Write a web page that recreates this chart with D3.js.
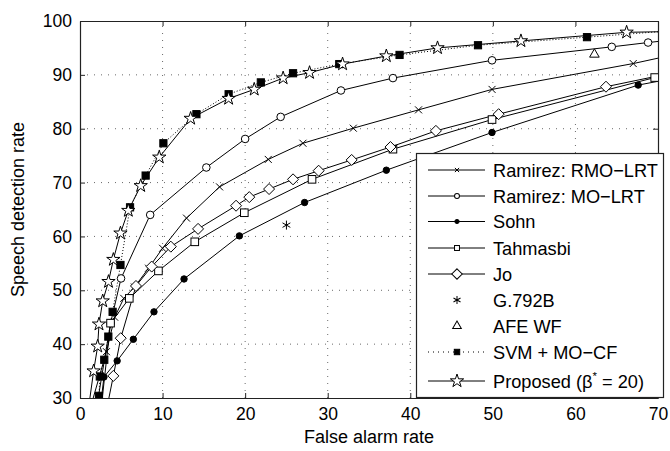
<!DOCTYPE html>
<html>
<head>
<meta charset="utf-8">
<script src="https://cdn.jsdelivr.net/npm/d3@7"></script>
<style>
  body { margin: 0; background: #fff; }
  svg text { font-family: "Liberation Sans", Arial, sans-serif; fill: #000; }
</style>
</head>
<body>
<svg id="chart" width="670" height="451"></svg>
<script>
// ---- data ----
const xTicks = [0, 10, 20, 30, 40, 50, 60, 70];
const yTicks = [30, 40, 50, 60, 70, 80, 90, 100];

const rmoLrt = [[1.6, 30], [3.2, 38.6], [4.2, 45.0], [5.3, 48.5], [6.6, 50.6], [8.3, 54.1], [10.0, 57.8], [12.9, 63.4],
  [16.9, 69.2], [22.8, 74.3], [27.0, 77.3], [33.1, 80.1], [41.0, 83.5], [49.9, 87.3], [67.0, 92.1], [70, 93.1]];
const moLrt = [[2.2, 30], [3.7, 43.9], [4.97, 52.2], [8.5, 64.0], [15.3, 72.8], [20.0, 78.1], [24.3, 82.2],
  [31.6, 87.1], [37.9, 89.4], [49.9, 92.7], [64.4, 95.2], [68.8, 96.0], [70, 96.2]];
const sohn = [[2.6, 30], [2.9, 33.9], [4.5, 36.9], [6.46, 40.9], [8.96, 46.0], [12.6, 52.1], [19.3, 60.1],
  [27.2, 66.3], [37.1, 72.3], [49.9, 79.3], [67.6, 88.1], [70, 88.8]];
const tahmasbi = [[2.7, 30], [3.7, 43.9], [5.97, 48.5], [9.5, 53.6], [13.9, 59.0], [19.9, 64.4], [28.1, 70.6],
  [37.9, 76.2], [49.9, 81.7], [69.6, 89.5]];
const jo = [[3.5, 30], [4.04, 34.1], [4.93, 41.1], [6.78, 50.8], [8.68, 54.4], [11.0, 58.1], [14.3, 61.4],
  [18.9, 65.7], [20.5, 67.3], [22.9, 68.8], [25.8, 70.6], [28.9, 72.2], [32.9, 74.2], [37.6, 76.6],
  [43.1, 79.6], [50.7, 82.7], [63.7, 87.8], [70, 89.8]];
const g792b = [[25.0, 62.1]];
const afeWf = [[62.3, 93.8]];
const svm = [[2.3, 30.4], [2.4, 34.0], [2.94, 37.1], [3.43, 41.4], [3.95, 46.0], [4.9, 54.7], [6.06, 65.4],
  [7.95, 71.3], [10.1, 77.3], [14.1, 82.7], [18.0, 86.4], [21.9, 88.6], [25.8, 90.3], [31.4, 92.0],
  [38.7, 93.7], [48.2, 95.5], [61.4, 97.0], [70, 98.0]];
const proposed = [[1.2, 30], [1.65, 35.0], [2.14, 39.6], [2.3, 43.7], [2.75, 48.0], [3.45, 51.6], [4.04, 55.7],
  [4.9, 60.6], [5.85, 64.8], [7.35, 69.4], [9.6, 74.7], [13.4, 81.9], [18.0, 85.6], [21.1, 87.3],
  [24.6, 89.4], [27.8, 90.4], [31.8, 92.0], [37.1, 93.5], [43.3, 95.0], [53.4, 96.3], [66.2, 97.9], [70, 98.0]];

// endpoint rows that only carry the line to the frame get no marker
const series = [
  {name: "Ramirez: RMO\u2212LRT", data: rmoLrt, marker: "x", line: "solid", skip: [0, 15]},
  {name: "Ramirez: MO\u2212LRT", data: moLrt, marker: "circle", line: "solid", skip: [0, 12]},
  {name: "Sohn", data: sohn, marker: "dot", line: "solid", skip: [0, 11]},
  {name: "Tahmasbi", data: tahmasbi, marker: "square", line: "solid", skip: [0]},
  {name: "Jo", data: jo, marker: "diamond", line: "solid", skip: [0, 17]},
  {name: "G.792B", data: g792b, marker: "asterisk", line: "none", skip: []},
  {name: "AFE WF", data: afeWf, marker: "triangle", line: "none", skip: []},
  {name: "SVM + MO\u2212CF", data: svm, marker: "fsquare", line: "dotted", skip: [17]},
  {name: "Proposed", data: proposed, marker: "star", line: "solid", skip: [0, 21]}
];

const svg = d3.select("#chart");
const margin = {left: 80, right: 12, top: 21, bottom: 53};
const W = 670, H = 451;
const x = d3.scaleLinear().domain([0, 70]).range([margin.left, W - margin.right]);
const y = d3.scaleLinear().domain([30, 100]).range([H - margin.bottom, margin.top]);
const x0 = x.range()[0], x1 = x.range()[1], y0 = y.range()[0], y1 = y.range()[1];

svg.append("defs").append("clipPath").attr("id", "plot-clip")
  .append("rect").attr("x", x0).attr("y", y1).attr("width", x1 - x0).attr("height", y0 - y1);

// grid
const grid = svg.append("g").attr("class", "grid")
  .attr("stroke", "#444").attr("stroke-width", 0.8).attr("stroke-dasharray", "1,6");
grid.selectAll(".gx").data(xTicks.slice(1, -1)).join("line")
  .attr("x1", d => x(d)).attr("x2", d => x(d)).attr("y1", y0).attr("y2", y1);
grid.selectAll(".gy").data(yTicks.slice(1, -1)).join("line")
  .attr("y1", d => y(d)).attr("y2", d => y(d)).attr("x1", x0).attr("x2", x1);

// axes (ticks inward, mirrored on top/right)
const tickLen = 5;
svg.append("g").attr("transform", `translate(0,${y0})`)
  .call(d3.axisBottom(x).tickValues(xTicks).tickSize(-tickLen).tickPadding(10).tickSizeOuter(0))
  .call(g => g.selectAll("text").attr("font-size", 17.5).attr("dy", "0.71em"));
svg.append("g").attr("transform", `translate(${x0},0)`)
  .call(d3.axisLeft(y).tickValues(yTicks).tickSize(-tickLen).tickPadding(8).tickSizeOuter(0))
  .call(g => g.selectAll("text").attr("font-size", 17.5));
svg.append("g").attr("transform", `translate(0,${y1})`)
  .call(d3.axisTop(x).tickValues(xTicks).tickSize(-tickLen).tickFormat("").tickSizeOuter(0));
svg.append("g").attr("transform", `translate(${x1},0)`)
  .call(d3.axisRight(y).tickValues(yTicks).tickSize(-tickLen).tickFormat("").tickSizeOuter(0));
svg.selectAll(".domain").attr("stroke", "#222").attr("stroke-width", 1.2);
svg.selectAll(".tick line").attr("stroke", "#222");

// markers (k scales the glyph, legend uses smaller ones)
function drawMarker(g, type, cx, cy, k) {
  const s = g.append("g").attr("transform", `translate(${cx},${cy}) scale(${k})`)
    .attr("stroke", "#000").attr("stroke-width", 1 / k);
  if (type === "x") {
    s.append("path").attr("d", "M-3.5,-3.5L3.5,3.5M-3.5,3.5L3.5,-3.5").attr("fill", "none");
  } else if (type === "circle") {
    s.append("circle").attr("r", 3.8).attr("fill", "#fff");
  } else if (type === "dot") {
    s.append("circle").attr("r", 3.2).attr("fill", "#000");
  } else if (type === "square") {
    s.append("rect").attr("x", -3.8).attr("y", -3.8).attr("width", 7.6).attr("height", 7.6).attr("fill", "#fff");
  } else if (type === "fsquare") {
    s.append("rect").attr("x", -3.6).attr("y", -3.6).attr("width", 7.2).attr("height", 7.2).attr("fill", "#000");
  } else if (type === "diamond") {
    s.append("path").attr("d", "M0,-5.5L5.5,0L0,5.5L-5.5,0Z").attr("fill", "#fff");
  } else if (type === "triangle") {
    s.append("path").attr("d", d3.symbol(d3.symbolTriangle, 40)()).attr("fill", "#fff");
  } else if (type === "asterisk") {
    s.append("path").attr("fill", "none")
      .attr("d", "M0,-4.5L0,4.5M-3.9,-2.25L3.9,2.25M-3.9,2.25L3.9,-2.25");
  } else if (type === "star") {
    s.append("path").attr("d", d3.symbol(d3.symbolStar, 55)()).attr("fill", "#fff");
  }
}

const line = d3.line().x(d => x(d[0])).y(d => y(d[1]));
const plot = svg.append("g").attr("clip-path", "url(#plot-clip)");
series.forEach(s => {
  if (s.line !== "none") {
    plot.append("path").datum(s.data).attr("d", line)
      .attr("fill", "none").attr("stroke", "#000").attr("stroke-width", 1)
      .attr("stroke-dasharray", s.line === "dotted" ? "1,2" : null);
  }
});
series.forEach(s => {
  s.data.forEach((d, i) => {
    if (s.skip.includes(i)) return;
    drawMarker(plot, s.marker, x(d[0]), y(d[1]), 1);
  });
});

// axis titles
svg.append("text").attr("x", (x0 + x1) / 2).attr("y", 443).attr("text-anchor", "middle")
  .attr("font-size", 18).text("False alarm rate");
svg.append("text").attr("transform", `translate(24,${(y0 + y1) / 2}) rotate(-90)`)
  .attr("text-anchor", "middle").attr("font-size", 18).text("Speech detection rate");

// legend
const lg = svg.append("g");
lg.append("rect").attr("x", 416.5).attr("y", 153.5).attr("width", 247).attr("height", 244)
  .attr("fill", "#fff").attr("stroke", "#222").attr("stroke-width", 1.2);
const rowY = [170, 196, 221.5, 248, 274, 300, 326, 352, 381];
const legendScale = {x: 0.6, circle: 0.65, dot: 0.65, square: 0.65, fsquare: 0.75,
  diamond: 0.95, asterisk: 0.9, triangle: 0.9, star: 1};
series.forEach((s, i) => {
  const yy = rowY[i];
  if (s.line !== "none") {
    lg.append("line").attr("x1", 428).attr("x2", 485).attr("y1", yy).attr("y2", yy)
      .attr("stroke", "#000").attr("stroke-width", 1)
      .attr("stroke-dasharray", s.line === "dotted" ? "1,4" : null);
  }
  drawMarker(lg, s.marker, 457, yy, legendScale[s.marker]);
  const t = lg.append("text").attr("x", 493).attr("y", yy + 6.5).attr("font-size", 18.2);
  if (s.marker === "star") {
    t.append("tspan").text("Proposed (\u03b2");
    t.append("tspan").attr("dy", -8).attr("font-size", 11.5).text("*");
    t.append("tspan").attr("dy", 8).text(" = 20)");
  } else {
    t.text(s.name);
  }
});
</script>
</body>
</html>
